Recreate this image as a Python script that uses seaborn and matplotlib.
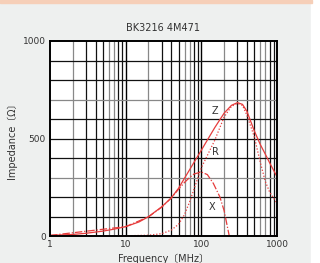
import matplotlib
matplotlib.use("Agg")
import matplotlib.pyplot as plt
import seaborn as sns
import numpy as np
import pandas as pd
from matplotlib.ticker import FixedLocator, NullFormatter, NullLocator

title = "BK3216 4M471"
xlabel = "Frequency〔MHz〕"
ylabel = "Impedance〔Ω〕"

z_freq = [1, 2, 3, 5, 7, 10, 15, 20, 30, 40, 50, 70, 100, 150, 200, 250, 300, 350, 400, 500, 600, 700, 800, 1000]
z_val = [3, 8, 14, 25, 35, 48, 72, 99, 150, 195, 245, 340, 440, 555, 630, 670, 684, 675, 640, 540, 470, 420, 375, 304]

r_freq = [1, 10, 20, 30, 40, 50, 60, 70, 80, 100, 150, 200, 250, 300, 350, 400, 500, 600, 700, 800, 900, 1000]
r_val = [0, 1, 4, 12, 30, 60, 110, 175, 240, 350, 490, 610, 665, 680, 670, 620, 510, 380, 280, 225, 195, 168]

x_freq = [1, 10, 20, 30, 40, 50, 60, 70, 80, 100, 120, 144, 176, 200, 234]
x_val = [3, 48, 98, 148, 195, 240, 275, 300, 318, 328, 315, 270, 200, 130, 0]

labels = ["Z", "R", "X"]
label_pos = [(150, 640), (155, 430), (140, 150)]

sns.set_theme(style="white")
plt.rcParams['font.family'] = ['DejaVu Sans', 'Noto Sans CJK JP']

fig = plt.figure(figsize=(3.2, 2.63), dpi=100, facecolor="#eef0ef")
fig.patches.append(plt.Rectangle((311/320, 0), 9/320, 1, transform=fig.transFigure, color="white", zorder=0))
fig.patches.append(plt.Rectangle((0, 1 - 3/263), 312/320, 3/263, transform=fig.transFigure, color="#f6cfb8", zorder=0))

ax = fig.add_axes([50/320, 27/263, 227/320, 195/263])
ax.set_facecolor("white")

red = "#e63c3c"
sns.lineplot(x=z_freq, y=z_val, ax=ax, color=red, lw=0.9, linestyle="-")
sns.lineplot(x=r_freq, y=r_val, ax=ax, color=red, lw=0.9, linestyle=(0, (1, 1.5)))
sns.lineplot(x=x_freq, y=x_val, ax=ax, color=red, lw=0.9, linestyle=(0, (6, 1.5, 1, 1.5)))

ax.set_xscale("log")
ax.set_xlim(1, 1000)
ax.set_ylim(0, 1000)

# grid lines
for dec in [1, 10, 100]:
    for m in range(2, 10):
        c = "#888888" if m in (2, 6, 7) else "#111111"
        ax.axvline(dec * m, color=c, lw=0.9, zorder=1)
for v in [10, 100]:
    ax.axvline(v, color="#000000", lw=1.0, zorder=1)
for yv in range(100, 1000, 100):
    c = "#888888" if yv in (700, 300) else "#111111"
    ax.axhline(yv, color=c, lw=0.9, zorder=1)

ax.xaxis.set_major_locator(FixedLocator([1, 10, 100, 1000]))
ax.xaxis.set_minor_locator(NullLocator())
ax.set_xticklabels(["1", "10", "100", "1000"])
ax.set_yticks([0, 500, 1000])
ax.set_yticklabels(["0", "500", "1000"])
ax.tick_params(axis="both", length=0, labelsize=6.5, pad=3, colors="#333333")

for s in ax.spines.values():
    s.set_color("black")
    s.set_linewidth(1.4)

for t, (fx, fy) in zip(labels, label_pos):
    ax.text(fx, fy, t, fontsize=7, color="#333333", ha="center", va="center")

ax.set_title(title, fontsize=7, color="#333333", pad=7)
ax.set_xlabel(xlabel, fontsize=7, color="#333333", labelpad=3)
ax.set_ylabel(ylabel, fontsize=7, color="#333333", labelpad=4)

fig.savefig("out.png", dpi=100, facecolor=fig.get_facecolor())
